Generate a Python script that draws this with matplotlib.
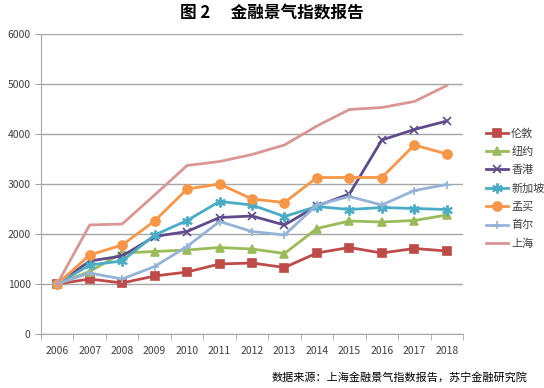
import matplotlib.pyplot as plt
import numpy as np

plt.rcParams['font.family'] = ['Noto Sans CJK SC', 'DejaVu Sans']

years = ['2006', '2007', '2008', '2009', '2010', '2011', '2012',
         '2013', '2014', '2015', '2016', '2017', '2018']
cities = ['伦敦', '纽约', '香港', '新加坡', '孟买', '首尔', '上海']

london = [1000, 1100, 1020, 1160, 1240, 1400, 1420, 1330, 1620, 1730, 1620, 1710, 1660]
newyork = [1000, 1250, 1620, 1650, 1680, 1730, 1700, 1610, 2110, 2260, 2240, 2270, 2380]
hongkong = [1000, 1460, 1560, 1950, 2050, 2330, 2360, 2180, 2560, 2800, 3880, 4090, 4260]
singapore = [1000, 1380, 1460, 1980, 2270, 2650, 2580, 2350, 2550, 2490, 2530, 2510, 2490]
mumbai = [1000, 1580, 1780, 2260, 2900, 3000, 2700, 2630, 3130, 3130, 3130, 3780, 3600]
seoul = [1000, 1220, 1100, 1350, 1750, 2250, 2050, 1980, 2580, 2750, 2580, 2870, 2990]
shanghai = [1000, 2180, 2200, 2780, 3370, 3450, 3590, 3780, 4160, 4490, 4530, 4650, 4970]

series = [london, newyork, hongkong, singapore, mumbai, seoul, shanghai]
colors = ['#BE4B48', '#9BBB59', '#5F4B8B', '#4BACC6', '#F79646', '#95B3D7', '#D99694']
markers = ['s', '^', 'x', '$*$', 'o', '+', None]
msizes = [6, 5.5, 6, 6.5, 6.5, 6, 0]

fig = plt.figure(figsize=(5.44, 3.88), dpi=100)
ax = fig.add_axes([41 / 544, 1 - 334 / 388, 422 / 544, 300 / 388])

x = np.arange(len(years))
for name, vals, c, m, ms in zip(cities, series, colors, markers, msizes):
    ax.plot(x, vals, color=c, linewidth=2, marker=m, markersize=ms,
            markeredgewidth=1.2, label=name)

ax.set_xlim(-0.5, len(years) - 0.5)
ax.set_ylim(0, 6000)
ax.set_yticks(range(0, 6001, 1000))
ax.yaxis.grid(True, color='#A6A6A6', linewidth=1)
ax.set_axisbelow(True)
ax.set_xticks(x)
ax.set_xticklabels(years)
ax.set_xticks(np.arange(-0.5, len(years), 1), minor=True)
ax.tick_params(axis='x', which='major', length=0, pad=9, labelsize=7.5, colors='#404040')
ax.tick_params(axis='x', which='minor', length=4, color='#A6A6A6')
ax.tick_params(axis='y', length=4, color='#A6A6A6', labelsize=7.5, labelcolor='#404040')
for s in ['top', 'right']:
    ax.spines[s].set_visible(False)
for s in ['left', 'bottom']:
    ax.spines[s].set_color('#A6A6A6')

ax.legend(loc='upper left', bbox_to_anchor=(1.03, 0.72), frameon=False,
          fontsize=8, handlelength=2.0, labelspacing=0.72, handletextpad=0.3,
          labelcolor='#404040')

fig.text(0.5, 0.965, '图 2　 金融景气指数报告', ha='center', va='center',
         fontsize=12, fontweight='bold')
fig.text(0.97, 0.028, '数据来源：上海金融景气指数报告，苏宁金融研究院',
         ha='right', va='center', fontsize=8, style='italic')

fig.savefig('out.png', dpi=100)
